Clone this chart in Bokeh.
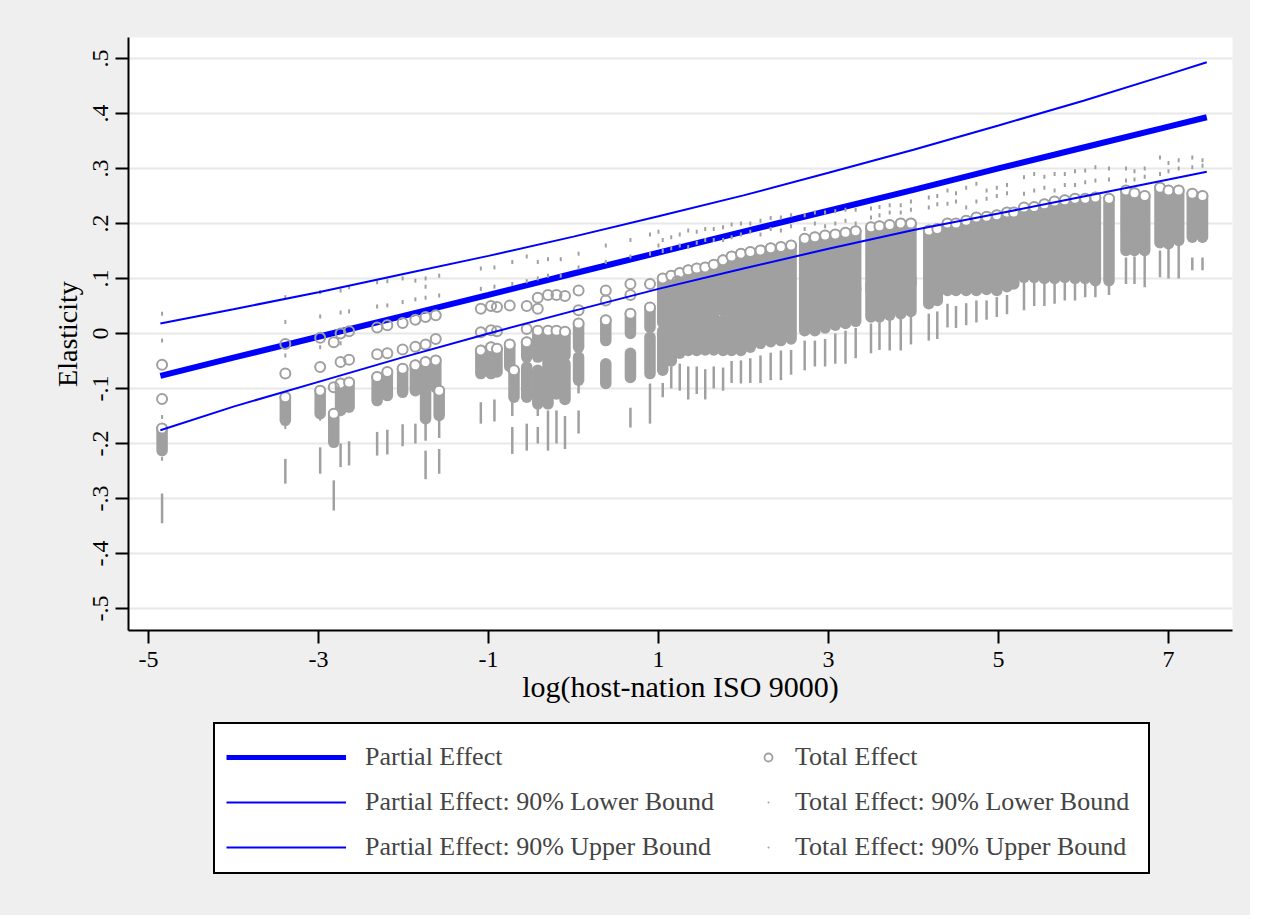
from bokeh.plotting import figure
from bokeh.models import Range1d, FixedTicker, Legend, LegendItem, ColumnDataSource
from bokeh.layouts import column
from bokeh.embed import file_html
from bokeh.resources import INLINE

GRAY = "#a0a0a0"
BLUE = "#0000ff"
BG = "#efefef"
FONT = "Liberation Serif"

# ---------------- partial effect and its 90% bounds
line_x  = [-4.86, -4.0, -3.0, -2.0, -1.0, 0.0, 1.0, 2.0, 3.0, 4.0, 5.0, 6.0, 7.0, 7.45]
partial = [-0.077, -0.044, -0.006, 0.032, 0.070, 0.109, 0.147, 0.185, 0.223, 0.261, 0.300, 0.338, 0.376, 0.393]
upper   = [0.018, 0.044, 0.075, 0.108, 0.141, 0.176, 0.213, 0.251, 0.292, 0.334, 0.378, 0.423, 0.471, 0.493]
lower   = [-0.176, -0.133, -0.088, -0.043, 0.000, 0.041, 0.081, 0.118, 0.154, 0.188, 0.218, 0.249, 0.280, 0.294]

# ---------------- total effect: dense stacks of circles (x, low, high)
te_x = [-4.84, -3.39, -2.98, -2.82, -2.74, -2.64, -2.31, -2.19, -2.01, -1.86,
        -1.74, -1.74, -1.62, -1.58, -1.09, -0.97, -0.90, -0.75, -0.70, -0.55,
        -0.55, -0.42, -0.42, -0.30, -0.30, -0.20, -0.20, -0.10, -0.10, 0.06,
        0.06, 0.38, 0.38, 0.67, 0.67, 0.90, 0.90,
        1.05, 1.05, 1.15, 1.15, 1.25, 1.25, 1.35, 1.35, 1.45, 1.45, 1.55, 1.55, 1.65, 1.65,
        1.76, 1.76, 1.86, 1.86, 1.97, 1.97, 2.08, 2.08, 2.20, 2.20, 2.32, 2.32, 2.44, 2.44, 2.56, 2.56,
        2.72, 2.72, 2.84, 2.84, 2.96, 2.96, 3.08, 3.08, 3.20, 3.20, 3.32, 3.32,
        3.50, 3.50, 3.60, 3.60, 3.72, 3.72, 3.85, 3.85, 3.97, 3.97,
        4.18, 4.28, 4.40, 4.50, 4.62, 4.74, 4.86, 4.98, 5.10, 5.18,
        5.30, 5.42, 5.54, 5.66, 5.78, 5.90, 6.02, 6.14, 6.30,
        6.50, 6.60, 6.72, 6.90, 7.00, 7.12, 7.28, 7.40]
te_lo = [-0.213, -0.158, -0.146, -0.198, -0.140, -0.134, -0.122, -0.113, -0.107, -0.104,
         -0.100, -0.155, -0.098, -0.149, -0.073, -0.073, -0.070, -0.060, -0.116, -0.043,
         -0.116, -0.043, -0.128, -0.040, -0.128, -0.040, -0.110, -0.040, -0.120, -0.025,
         -0.085, -0.013, -0.091, 0.000, -0.080, 0.011, -0.073,
         0.020, -0.067, 0.020, -0.050, 0.020, -0.036, 0.024, -0.031, 0.024, -0.031, 0.024, -0.030, 0.030, -0.030,
         0.042, -0.031, 0.042, -0.031, 0.042, -0.031, 0.042, -0.025, 0.042, -0.018, 0.047, -0.015, 0.047, -0.013, 0.050, -0.010,
         0.066, 0.005, 0.066, 0.005, 0.070, 0.010, 0.078, 0.015, 0.078, 0.018, 0.080, 0.022,
         0.078, 0.030, 0.080, 0.030, 0.085, 0.033, 0.090, 0.036, 0.090, 0.040,
         0.054, 0.060, 0.078, 0.078, 0.078, 0.078, 0.080, 0.078, 0.085, 0.090,
         0.102, 0.102, 0.100, 0.100, 0.102, 0.100, 0.100, 0.096, 0.096,
         0.151, 0.151, 0.151, 0.165, 0.163, 0.169, 0.175, 0.175]
te_hi = [-0.173, -0.116, -0.104, -0.146, -0.091, -0.089, -0.079, -0.070, -0.064, -0.058,
         -0.052, -0.104, -0.049, -0.104, -0.031, -0.025, -0.028, -0.020, -0.067, -0.016,
         -0.061, 0.005, -0.067, 0.005, -0.049, 0.005, -0.050, 0.003, -0.055, 0.018,
         -0.043, 0.024, -0.055, 0.036, -0.036, 0.047, -0.007,
         0.100, 0.005, 0.105, 0.008, 0.110, 0.010, 0.115, 0.011, 0.118, 0.011, 0.120, 0.012, 0.125, 0.015,
         0.133, 0.024, 0.140, 0.030, 0.145, 0.036, 0.148, 0.036, 0.151, 0.036, 0.155, 0.040, 0.157, 0.042, 0.160, 0.045,
         0.172, 0.066, 0.175, 0.066, 0.178, 0.070, 0.180, 0.078, 0.183, 0.078, 0.186, 0.082,
         0.193, 0.090, 0.195, 0.090, 0.197, 0.095, 0.200, 0.102, 0.200, 0.100,
         0.187, 0.190, 0.200, 0.200, 0.205, 0.211, 0.212, 0.215, 0.220, 0.220,
         0.229, 0.230, 0.235, 0.240, 0.242, 0.245, 0.245, 0.247, 0.245,
         0.260, 0.255, 0.250, 0.265, 0.260, 0.260, 0.254, 0.250]

# ---------------- total effect: isolated circles
tp_x = [-4.84, -4.84, -3.39, -3.39, -2.98, -2.98, -2.82, -2.82, -2.74, -2.74,
        -2.64, -2.64, -2.31, -2.31, -2.19, -2.19, -2.01, -2.01, -1.86, -1.86,
        -1.74, -1.74, -1.62, -1.62, -1.09, -1.09, -0.97, -0.97, -0.90, -0.90,
        -0.75, -0.55, -0.55, -0.42, -0.42, -0.30, -0.20, -0.10, 0.06, 0.06,
        0.38, 0.38, 0.67, 0.67, 0.90, 1.22]
tp_y = [-0.057, -0.119, -0.019, -0.073, -0.008, -0.061, -0.016, -0.098, 0.000, -0.052,
        0.004, -0.048, 0.011, -0.038, 0.015, -0.036, 0.019, -0.029, 0.025, -0.024,
        0.030, -0.020, 0.033, -0.010, 0.045, 0.002, 0.050, 0.006, 0.048, 0.004,
        0.051, 0.050, 0.008, 0.065, 0.045, 0.070, 0.070, 0.068, 0.078, 0.042,
        0.078, 0.060, 0.090, 0.070, 0.090, 0.095]

# ---------------- total effect, 90% lower bound: stacks of dots (x, low, high)
lb_x = [-4.84, -3.39, -2.98, -2.82, -2.74, -2.64, -2.31, -2.19, -2.01, -1.86,
        -1.74, -1.74, -1.58, -1.58, -1.09, -0.93, -0.72, -0.72, -0.55, -0.42,
        -0.42, -0.30, -0.20, -0.10, 0.06, 0.06, 0.38, 0.67, 0.90,
        1.05, 1.15, 1.25, 1.35, 1.45, 1.55, 1.65, 1.76, 1.86, 1.97,
        2.08, 2.20, 2.32, 2.44, 2.56, 2.72, 2.84, 2.96, 3.08, 3.20,
        3.32, 3.50, 3.60, 3.72, 3.85, 3.97, 4.18, 4.28, 4.40, 4.50,
        4.62, 4.74, 4.86, 4.98, 5.10, 5.30, 5.42, 5.54, 5.66, 5.78,
        5.90, 6.02, 6.14, 6.30, 6.50, 6.60, 6.72, 6.90, 7.00, 7.12,
        7.28, 7.40]
lb_lo = [-0.345, -0.273, -0.255, -0.322, -0.243, -0.240, -0.222, -0.220, -0.205, -0.200,
         -0.195, -0.265, -0.190, -0.255, -0.164, -0.160, -0.150, -0.219, -0.213, -0.150,
         -0.200, -0.213, -0.200, -0.210, -0.109, -0.182, -0.100, -0.171, -0.164,
         -0.116, -0.100, -0.104, -0.120, -0.110, -0.120, -0.100, -0.104, -0.090, -0.091,
         -0.090, -0.090, -0.085, -0.085, -0.075, -0.067, -0.060, -0.060, -0.055, -0.055,
         -0.045, -0.036, -0.030, -0.031, -0.031, -0.020, -0.013, -0.010, 0.011, 0.010,
         0.015, 0.020, 0.025, 0.030, 0.035, 0.042, 0.050, 0.050, 0.054, 0.060,
         0.060, 0.066, 0.066, 0.070, 0.090, 0.090, 0.084, 0.102, 0.100, 0.100,
         0.115, 0.115]
lb_hi = [-0.291, -0.228, -0.207, -0.267, -0.200, -0.196, -0.179, -0.175, -0.165, -0.164,
         -0.161, -0.213, -0.158, -0.210, -0.125, -0.120, -0.120, -0.170, -0.164, -0.110,
         -0.170, -0.140, -0.140, -0.150, -0.067, -0.140, -0.060, -0.135, -0.091,
         -0.090, -0.060, -0.055, -0.060, -0.060, -0.065, -0.060, -0.062, -0.050, -0.049,
         -0.045, -0.040, -0.035, -0.031, -0.030, -0.013, -0.013, -0.010, 0.000, 0.005,
         0.010, 0.018, 0.020, 0.025, 0.030, 0.030, 0.036, 0.040, 0.054, 0.050,
         0.055, 0.060, 0.060, 0.066, 0.070, 0.102, 0.100, 0.105, 0.109, 0.105,
         0.109, 0.109, 0.110, 0.120, 0.138, 0.140, 0.145, 0.151, 0.155, 0.160,
         0.138, 0.138]
# isolated lower-bound dots
lp_x = [-4.84, -4.84, -3.39, -2.98]
lp_y = [-0.152, -0.228, -0.170, -0.155]

# ---------------- total effect, 90% upper bound: isolated dots
up_x = [-4.84, -4.84, -3.39, -3.39, -3.39, -2.98, -2.98, -2.98, -2.74, -2.74,
        -2.74, -2.64, -2.64, -2.31, -2.31, -2.19, -2.19, -2.01, -2.01, -1.86,
        -1.86, -1.74, -1.74, -1.74, -1.58, -1.58, -1.09, -1.09, -0.93, -0.93,
        -0.72, -0.72, -0.55, -0.55, -0.42, -0.42, -0.30, -0.30, -0.15, -0.15,
        0.06, 0.06, 0.38, 0.38, 0.67, 0.67, 0.90, 0.90, 1.00, 1.00]
up_y = [0.036, -0.013, 0.066, 0.021, -0.040, 0.075, 0.031, -0.025, 0.078, 0.038,
        -0.018, 0.084, 0.040, 0.093, 0.049, 0.095, 0.051, 0.100, 0.057, 0.096,
        0.062, 0.085, 0.100, 0.065, 0.105, 0.069, 0.118, 0.081, 0.120, 0.085,
        0.130, 0.090, 0.140, 0.095, 0.130, 0.100, 0.135, 0.105, 0.135, 0.105,
        0.145, 0.120, 0.160, 0.130, 0.170, 0.140, 0.180, 0.145, 0.185, 0.160]
# right part: two upper-bound dots per column
up2_x = [1.05, 1.15, 1.25, 1.35, 1.45, 1.55, 1.65, 1.76, 1.86, 1.97,
         2.08, 2.20, 2.32, 2.44, 2.56, 2.72, 2.84, 2.96, 3.08, 3.20,
         3.32, 3.50, 3.60, 3.72, 3.85, 3.97, 4.18, 4.28, 4.40, 4.50,
         4.62, 4.74, 4.86, 4.98, 5.10, 5.30, 5.42, 5.54, 5.66, 5.78,
         5.90, 6.02, 6.14, 6.30, 6.50, 6.60, 6.72, 6.90, 7.00, 7.12,
         7.28, 7.40]
up2_a = [0.150, 0.155, 0.160, 0.157, 0.165, 0.170, 0.170, 0.170, 0.175, 0.180,
         0.185, 0.180, 0.190, 0.187, 0.195, 0.190, 0.200, 0.195, 0.200, 0.205,
         0.200, 0.211, 0.215, 0.220, 0.220, 0.225, 0.229, 0.235, 0.236, 0.240,
         0.229, 0.240, 0.245, 0.250, 0.255, 0.254, 0.260, 0.265, 0.260, 0.270,
         0.270, 0.275, 0.278, 0.280, 0.278, 0.280, 0.285, 0.290, 0.295, 0.300,
         0.302, 0.305]
up2_b = [0.170, 0.175, 0.180, 0.187, 0.185, 0.190, 0.190, 0.193, 0.198, 0.200,
         0.200, 0.205, 0.210, 0.211, 0.215, 0.215, 0.220, 0.220, 0.222, 0.225,
         0.225, 0.227, 0.230, 0.233, 0.233, 0.240, 0.247, 0.250, 0.260, 0.255,
         0.265, 0.272, 0.260, 0.265, 0.270, 0.284, 0.290, 0.285, 0.290, 0.290,
         0.295, 0.296, 0.302, 0.300, 0.300, 0.295, 0.300, 0.320, 0.310, 0.315,
         0.320, 0.315]

# ---------------- axes and legend texts
x_ticks = [-5, -3, -1, 1, 3, 5, 7]
x_tick_labels = ["-5", "-3", "-1", "1", "3", "5", "7"]
y_ticks = [0.5, 0.4, 0.3, 0.2, 0.1, 0, -0.1, -0.2, -0.3, -0.4, -0.5]
y_tick_labels = [".5", ".4", ".3", ".2", ".1", "0", "-.1", "-.2", "-.3", "-.4", "-.5"]
legend_labels = ["Partial Effect", "Partial Effect: 90% Lower Bound", "Partial Effect: 90% Upper Bound",
                 "Total Effect", "Total Effect: 90% Lower Bound", "Total Effect: 90% Upper Bound"]

assert len(line_x) == len(partial) == len(upper) == len(lower)
assert len(te_x) == len(te_lo) == len(te_hi)
assert len(tp_x) == len(tp_y)
assert len(lb_x) == len(lb_lo) == len(lb_hi)
assert len(up_x) == len(up_y)
assert len(up2_x) == len(up2_a) == len(up2_b)

# top circle of each stack (highest stack end per x position)
tops = {}
for xv, hv in zip(te_x, te_hi):
    tops[xv] = max(tops.get(xv, hv), hv)
ring_x = list(tops.keys())
ring_y = list(tops.values())

W = 1250
p = figure(width=W, height=715,
           x_range=Range1d(-5.235, 7.753), y_range=Range1d(-0.54, 0.538),
           output_backend="svg", toolbar_location=None,
           min_border_left=128, min_border_right=18, min_border_top=37, min_border_bottom=85)
p.border_fill_color = BG
p.background_fill_color = "white"
p.outline_line_color = None

# partial effect (drawn underneath the circles)
p.line(line_x, partial, line_color=BLUE, line_width=6)

# total effect circles: stacks, with the top ring of each stack visible
te_src = ColumnDataSource(dict(x=te_x, lo=te_lo, hi=te_hi))
p.segment(x0="x", y0="lo", x1="x", y1="hi", source=te_src,
          line_color=GRAY, line_width=11.5, line_cap="round")
p.scatter(ring_x, ring_y, marker="circle", size=10,
          fill_color="white", line_color=GRAY, line_width=2)
p.scatter(tp_x, tp_y, marker="circle", size=10, fill_color=None,
          line_color=GRAY, line_width=2)

# lower-bound dots
lb_src = ColumnDataSource(dict(x=lb_x, lo=lb_lo, hi=lb_hi))
p.segment(x0="x", y0="lo", x1="x", y1="hi", source=lb_src,
          line_color=GRAY, line_width=2.5)
p.scatter(lp_x, lp_y, marker="dash", angle=1.5708, size=4, line_color=GRAY, line_width=2)

# upper-bound dots
p.scatter(up_x + up2_x + up2_x, up_y + up2_a + up2_b, marker="dash", angle=1.5708,
          size=4, line_color=GRAY, line_width=2)

# bounds of the partial effect
p.line(line_x, lower, line_color=BLUE, line_width=2)
p.line(line_x, upper, line_color=BLUE, line_width=2)

# ---- axes styling
p.xgrid.visible = False
p.ygrid.ticker = FixedTicker(ticks=y_ticks)
p.ygrid.grid_line_color = "#e8e8e8"
p.ygrid.grid_line_width = 2

p.xaxis.ticker = FixedTicker(ticks=x_ticks)
p.xaxis.major_label_overrides = dict(zip(x_ticks, x_tick_labels))
p.yaxis.ticker = FixedTicker(ticks=y_ticks)
p.yaxis.major_label_overrides = dict(zip(y_ticks, y_tick_labels))
p.yaxis.major_label_orientation = "vertical"

p.xaxis.axis_label = "log(host-nation ISO 9000)"
p.yaxis.axis_label = "Elasticity"
for ax in (p.xaxis[0], p.yaxis[0]):
    ax.axis_line_color = "black"
    ax.axis_line_width = 2
    ax.major_tick_line_color = "black"
    ax.major_tick_line_width = 2
    ax.major_tick_out = 13
    ax.major_tick_in = 0
    ax.minor_tick_line_color = None
    ax.major_label_text_font = FONT
    ax.major_label_text_font_size = "24px"
    ax.major_label_text_color = "black"
    ax.axis_label_text_font = FONT
    ax.axis_label_text_font_style = "normal"
    ax.axis_label_text_color = "black"
p.xaxis.axis_label_text_font_size = "30px"
p.yaxis.axis_label_text_font_size = "28px"
p.xaxis.major_label_standoff = 8
p.xaxis.axis_label_standoff = 0
p.yaxis.major_label_standoff = 7
p.yaxis.axis_label_standoff = 8

# ---- legend strip below the plot (same grey page), with a framed box
q = figure(width=W, height=200, x_range=Range1d(0, 10), y_range=Range1d(0, 10),
           x_axis_type=None, y_axis_type=None,
           output_backend="svg", toolbar_location=None, min_border=0)
q.border_fill_color = BG
q.background_fill_alpha = 0
q.outline_line_color = None

# key renderers: their data lie outside the strip's ranges, only their legend keys show
kx, ky = [-20, -19], [-20, -19]
k_part = q.line(kx, ky, line_color=BLUE, line_width=5)
k_low = q.line(kx, ky, line_color=BLUE, line_width=2)
k_up = q.line(kx, ky, line_color=BLUE, line_width=2)
k_te = q.scatter(kx, ky, marker="circle", size=8, fill_color=None, line_color=GRAY, line_width=1.8)
k_lb = q.scatter(kx, ky, marker="dot", size=3, fill_color=GRAY, line_color=GRAY, line_width=1)
k_ub = q.scatter(kx, ky, marker="dot", size=3, fill_color=GRAY, line_color=GRAY, line_width=1)
k_box = q.line(kx, ky, line_alpha=0)

# the strip's frame is aligned with the plot frame (left edge at 128 px)
box = Legend(items=[LegendItem(label=" ", renderers=[k_box])], location=(85, 41),
             glyph_width=1, glyph_height=148, label_height=148, label_width=932,
             label_standoff=0, padding=0, margin=0,
             border_line_color="black", border_line_width=2, border_line_alpha=1,
             background_fill_color="white", background_fill_alpha=1,
             label_text_font_size="2px")
leg1 = Legend(items=[LegendItem(label=legend_labels[0], renderers=[k_part]),
                     LegendItem(label=legend_labels[1], renderers=[k_low]),
                     LegendItem(label=legend_labels[2], renderers=[k_up])],
              location=(98, 53), glyph_width=120, glyph_height=30, label_height=30,
              label_standoff=19, spacing=15, padding=0, margin=0,
              border_line_color=None, background_fill_alpha=0,
              label_text_font=FONT, label_text_font_size="26px")
leg2 = Legend(items=[LegendItem(label=legend_labels[3], renderers=[k_te]),
                     LegendItem(label=legend_labels[4], renderers=[k_lb]),
                     LegendItem(label=legend_labels[5], renderers=[k_ub])],
              location=(630, 53), glyph_width=20, glyph_height=30, label_height=30,
              label_standoff=17, spacing=15, padding=0, margin=0,
              border_line_color=None, background_fill_alpha=0,
              label_text_font=FONT, label_text_font_size="26px")
q.add_layout(box)
q.add_layout(leg1)
q.add_layout(leg2)

page = column(p, q, spacing=0, styles={"background-color": BG})
open("out.html", "w").write(file_html(page, INLINE))
